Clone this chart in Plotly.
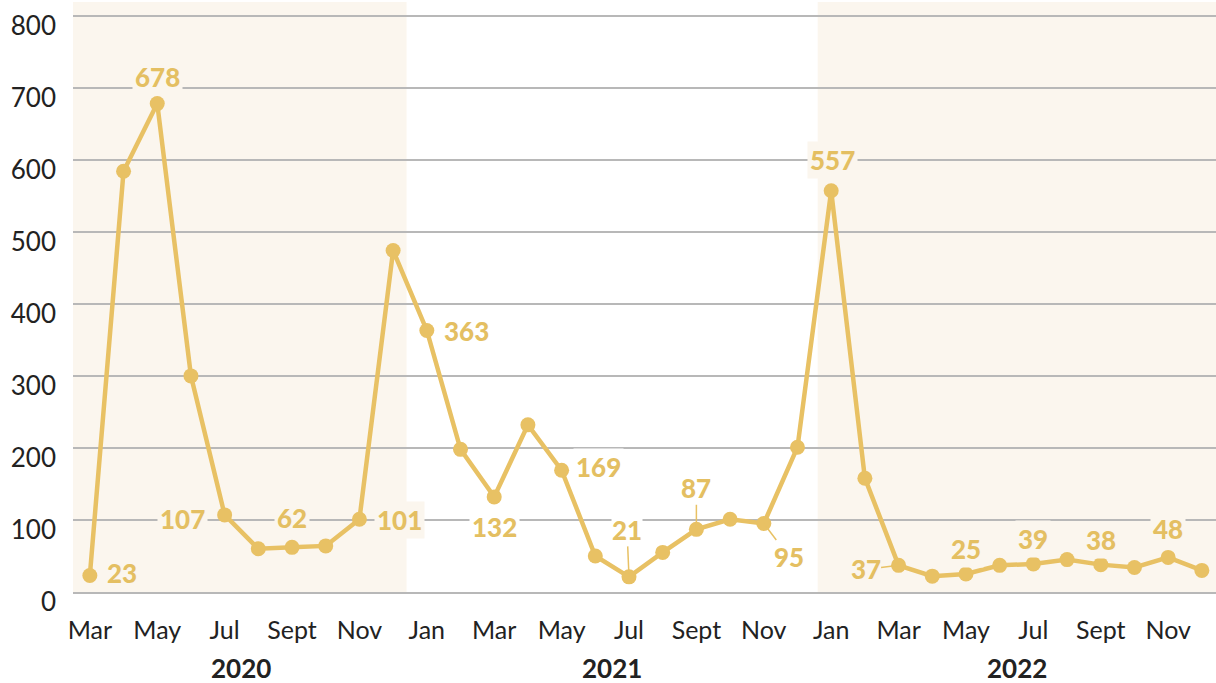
import plotly.graph_objects as go

# ---- data ----
months = ["Mar 2020", "Apr 2020", "May 2020", "Jun 2020", "Jul 2020", "Aug 2020", "Sep 2020",
          "Oct 2020", "Nov 2020", "Dec 2020",
          "Jan 2021", "Feb 2021", "Mar 2021", "Apr 2021", "May 2021", "Jun 2021", "Jul 2021",
          "Aug 2021", "Sep 2021", "Oct 2021", "Nov 2021", "Dec 2021",
          "Jan 2022", "Feb 2022", "Mar 2022", "Apr 2022", "May 2022", "Jun 2022", "Jul 2022",
          "Aug 2022", "Sep 2022", "Oct 2022", "Nov 2022", "Dec 2022"]
values = [23, 584, 678, 300, 107, 60, 62, 64, 101, 474,
          363, 198, 132, 232, 169, 50, 21, 55, 87, 101, 95, 201,
          557, 158, 37, 22, 25, 37, 39, 45, 38, 34, 48, 30]
tick_months = ["Mar 2020", "May 2020", "Jul 2020", "Sep 2020", "Nov 2020",
               "Jan 2021", "Mar 2021", "May 2021", "Jul 2021", "Sep 2021", "Nov 2021",
               "Jan 2022", "Mar 2022", "May 2022", "Jul 2022", "Sep 2022", "Nov 2022"]
tick_labels = ["Mar", "May", "Jul", "Sept", "Nov",
               "Jan", "Mar", "May", "Jul", "Sept", "Nov",
               "Jan", "Mar", "May", "Jul", "Sept", "Nov"]
years = ["2020", "2021", "2022"]
year_first = ["Mar 2020", "Jan 2021", "Jan 2022"]
year_last = ["Dec 2020", "Dec 2021", "Dec 2022"]
y_ticks = [0, 100, 200, 300, 400, 500, 600, 700, 800]

# ---- style ----
LINE = "#E8C164"
LABEL = "#E4BF62"
SHADE = "#FBF6EE"
GRID = "#B8B8B8"
TEXT = "#222222"
FONT = "Lato"

# label placement (pixel offsets from the point): (xshift, yshift_up, leader)
label_style = {
    "Mar 2020": (32, 2, False),
    "May 2020": (0, 27, False),
    "Jul 2020": (-42, -4, False),
    "Sep 2020": (0, 29, False),
    "Nov 2020": (40, -1, False),
    "Jan 2021": (40, 0, False),
    "Mar 2021": (0, -30, False),
    "May 2021": (37, 3, False),
    "Jul 2021": (-2, 47, True),
    "Sep 2021": (0, 41, True),
    "Nov 2021": (25, -33, True),
    "Jan 2022": (1, 31, False),
    "Mar 2022": (-33, -4, True),
    "May 2022": (0, 25, False),
    "Jul 2022": (0, 25, False),
    "Sep 2022": (0, 25, False),
    "Nov 2022": (0, 28, False),
}

idx = {m: i for i, m in enumerate(months)}
shaded_years = [(-0.5, 9.4), (21.6, 33.5)]

fig = go.Figure()
fig.add_trace(go.Scatter(
    x=months, y=values, mode="lines+markers",
    line=dict(color=LINE, width=4.5),
    marker=dict(color=LINE, size=15),
    hoverinfo="x+y", showlegend=False,
))

shapes = []
for x0, x1 in shaded_years:
    shapes.append(dict(type="rect", xref="x", yref="paper", x0=x0, x1=x1, y0=0, y1=1,
                       fillcolor=SHADE, line=dict(width=0), layer="below"))

def in_shade(i):
    return any(x0 <= i <= x1 for x0, x1 in shaded_years)

label_font = dict(family=FONT, size=26, color=LABEL, weight=900)

annotations = []
for m, (dx, dy, leader) in label_style.items():
    i = idx[m]
    v = values[i]
    bg = SHADE if in_shade(i + (0.3 if dx > 0 else 0)) or m == "Nov 2020" else "#FFFFFF"
    if leader:
        annotations.append(dict(
            x=m, y=v, xref="x", yref="y", text=f"{v}",
            showarrow=True, ax=dx, ay=-dy, arrowhead=0, arrowwidth=1.5,
            arrowcolor=LINE, standoff=0,
            font=label_font, bgcolor=bg, borderpad=0,
        ))
    else:
        annotations.append(dict(
            x=m, y=v, xref="x", yref="y", text=f"{v}",
            showarrow=False, xshift=dx, yshift=dy,
            font=label_font, bgcolor=bg, borderpad=2,
        ))

for yr, a, b in zip(years, year_first, year_last):
    annotations.append(dict(
        x=(idx[a] + idx[b]) / 2, y=0, xref="x", yref="paper", yshift=-76,
        yanchor="middle", text=f"<b>{yr}</b>", showarrow=False,
        font=dict(family=FONT, size=26, color=TEXT),
    ))

fig.update_layout(
    width=1216, height=683,
    margin=dict(l=73, r=0, t=2, b=91),
    paper_bgcolor="#FFFFFF", plot_bgcolor="#FFFFFF",
    shapes=shapes, annotations=annotations,
    font=dict(family=FONT, color=TEXT),
    xaxis=dict(
        type="category", categoryorder="array", categoryarray=months,
        range=[-0.5, 33.42], tickvals=tick_months, ticktext=tick_labels,
        showgrid=False, showline=True, linecolor=GRID, linewidth=1.6,
        ticks="", ticklabelstandoff=15,
        tickfont=dict(family=FONT, size=25, color=TEXT), zeroline=False,
    ),
    yaxis=dict(
        range=[0, 819], tickvals=y_ticks, showgrid=True, gridcolor=GRID, gridwidth=1.5,
        zeroline=False, showline=False,
        ticks="", ticklabelstandoff=16, ticklabelshift=10,
        tickfont=dict(family=FONT, size=26, color=TEXT),
    ),
)

fig.write_html("out.html", config={"displayModeBar": False},
               post_script="document.body.style.margin='0px';")
